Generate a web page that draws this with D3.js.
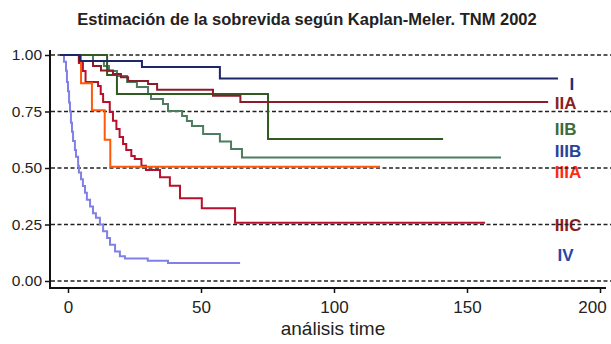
<!DOCTYPE html>
<html>
<head>
<meta charset="utf-8">
<script src="https://cdn.jsdelivr.net/npm/d3@7"></script>
<style>
  html, body { margin: 0; padding: 0; background: #fff; }
  svg { display: block; }
  text { font-family: "Liberation Sans", Arial, Helvetica, sans-serif; }
</style>
</head>
<body>
<svg id="chart" width="611" height="344"></svg>
<script>
// ---- data (times in months, survival proportion) ----
const titleText = "Estimación de la sobrevida según Kaplan-Meler. TNM 2002";
const xLabel = "análisis time";
const xTicks = [0, 50, 100, 150, 200];
const yTicks = [0, 0.25, 0.5, 0.75, 1];

const stageNames = ["I", "IIA", "IIB", "IIIB", "IIIA", "IIIC", "IV"];

const timesI = [-3, 4.5, 27.8, 57.1, 184.2];
const survI  = [1, 0.973, 0.947, 0.896, 0.896];

const timesIIA = [-3, 4.1, 9.4, 12.4, 16.9, 19.9, 22.6, 30.1, 33.5, 54.5, 64.8, 180.5];
const survIIA  = [1, 0.973, 0.951, 0.931, 0.916, 0.901, 0.885, 0.872, 0.846, 0.820, 0.792, 0.792];

const timesIIB = [-3, 14.7, 18.4, 75.2, 141];
const survIIB  = [1, 0.912, 0.827, 0.628, 0.628];

const timesIIIB = [-3, 9.4, 13.5, 15.4, 18.4, 22.2, 25.9, 30.1, 31.2, 35.7, 37.6, 42.9, 44.7, 46.6, 50.8, 57.1, 61.3, 65.4, 162.8];
const survIIIB  = [1, 0.973, 0.951, 0.929, 0.907, 0.881, 0.858, 0.827, 0.805, 0.783, 0.752, 0.730, 0.708, 0.686, 0.650, 0.617, 0.584, 0.547, 0.547];

const timesIIIA = [-3, 4.9, 9.0, 13.8, 15.9, 117.3];
const survIIIA  = [1, 0.875, 0.755, 0.625, 0.505, 0.505];

const timesIIIC = [-3, 4.1, 5.6, 6.6, 11.3, 12.3, 13.2, 15.7, 16.9, 18.2, 19.4, 20.7, 21.9, 23.8, 25.1, 27.6, 29.3, 34.6, 38.3, 42.1, 50.3, 62.8, 156.8];
const survIIIC  = [1, 0.965, 0.929, 0.881, 0.863, 0.827, 0.792, 0.748, 0.709, 0.673, 0.637, 0.606, 0.580, 0.553, 0.540, 0.510, 0.491, 0.459, 0.422, 0.366, 0.322, 0.258, 0.258];

const timesIV = [-3, -1.5, -0.75, -0.4, 0, 0.4, 0.75, 1.1, 1.5, 1.9, 2.6, 3, 3.8, 4.1, 4.9, 5.6, 6.4, 7.1, 8.3, 9.4, 10.5, 12, 13.2, 14.7, 15.8, 17.7, 19.5, 21.4, 30, 37.6, 64.7];
const survIV  = [1, 0.97, 0.93, 0.88, 0.84, 0.79, 0.75, 0.70, 0.66, 0.62, 0.58, 0.55, 0.51, 0.48, 0.45, 0.42, 0.39, 0.36, 0.33, 0.30, 0.28, 0.25, 0.22, 0.19, 0.16, 0.13, 0.11, 0.10, 0.09, 0.08, 0.08];

// label anchor values (survival level each stage label sits at)
const labelTimes = [188.5, 183, 183, 183, 183, 183, 184];
const labelLevels = [0.873, 0.790, 0.675, 0.575, 0.482, 0.248, 0.115];

// ---- styles ----
const lineColors  = ["#1c2668", "#8e1b2a", "#2f5a20", "#4d7d60", "#ff5a0a", "#b8102c", "#8080e6"];
const labelColors = ["#1f2e7a", "#8b1f1f", "#3c6b3c", "#27449a", "#ff2a14", "#8e1b1b", "#2446a6"];

const seriesTimes = [timesI, timesIIA, timesIIB, timesIIIB, timesIIIA, timesIIIC, timesIV];
const seriesSurv  = [survI, survIIA, survIIB, survIIIB, survIIIA, survIIIC, survIV];

const svg = d3.select("#chart");
const x = d3.scaleLinear().domain([0, 200]).range([68, 600]);
const y = d3.scaleLinear().domain([0, 1]).range([281, 55]);
const axisLeftX = 50, axisBottomY = 288;

// title
svg.append("text")
  .attr("x", 307).attr("y", 25)
  .attr("text-anchor", "middle")
  .attr("font-size", 16.5).attr("font-weight", "bold")
  .attr("fill", "#222")
  .text(titleText);

// stage labels (drawn under grid lines)
svg.append("g").selectAll("text")
  .data(stageNames)
  .join("text")
  .attr("x", (d, i) => x(labelTimes[i]))
  .attr("y", (d, i) => y(labelLevels[i]))
  .attr("dy", "0.36em")
  .attr("text-anchor", "start")
  .attr("font-size", 17).attr("font-weight", "bold")
  .attr("fill", (d, i) => labelColors[i])
  .text(d => d);

// dashed grid
svg.append("g").selectAll("line")
  .data(yTicks)
  .join("line")
  .attr("x1", axisLeftX + 1).attr("x2", 611)
  .attr("y1", d => y(d)).attr("y2", d => y(d))
  .attr("stroke", "#222").attr("stroke-width", 1.3)
  .attr("stroke-dasharray", "4,2.5");

// curves
const line = d3.line()
  .x(d => x(d[0])).y(d => y(d[1]))
  .curve(d3.curveStepAfter);

svg.append("g").selectAll("path")
  .data(d3.range(seriesTimes.length).reverse())
  .join("path")
  .attr("d", i => line(seriesTimes[i].map((t, k) => [t, seriesSurv[i][k]])))
  .attr("fill", "none")
  .attr("stroke", i => lineColors[i])
  .attr("stroke-width", 2);

// y axis
const yAxis = d3.axisLeft(y).tickValues(yTicks).tickFormat(d3.format(".2f")).tickSize(5).tickPadding(3);
const gy = svg.append("g").attr("transform", `translate(${axisLeftX},0)`).call(yAxis);
gy.select(".domain").remove();
gy.selectAll("line").attr("stroke", "#111").attr("stroke-width", 1.5);
gy.selectAll("text").attr("font-size", 15.5).attr("fill", "#222")
  .attr("font-family", "'Liberation Sans', Arial, sans-serif");

// x axis
const xAxis = d3.axisBottom(x).tickValues(xTicks).tickSize(5).tickPadding(8);
const gx = svg.append("g").attr("transform", `translate(0,${axisBottomY})`).call(xAxis);
gx.select(".domain").remove();
gx.selectAll("line").attr("stroke", "#111").attr("stroke-width", 1.5);
gx.selectAll("text").attr("font-size", 17).attr("fill", "#222")
  .attr("font-family", "'Liberation Sans', Arial, sans-serif");
gx.selectAll(".tick").filter(d => d === 200).select("text").attr("dx", -8);

// axis lines
svg.append("line")
  .attr("x1", axisLeftX).attr("x2", axisLeftX)
  .attr("y1", 50).attr("y2", axisBottomY + 0.75)
  .attr("stroke", "#111").attr("stroke-width", 2);
svg.append("line")
  .attr("x1", axisLeftX - 1).attr("x2", 606)
  .attr("y1", axisBottomY).attr("y2", axisBottomY)
  .attr("stroke", "#111").attr("stroke-width", 2);

// x axis title
svg.append("text")
  .attr("x", 333).attr("y", 335)
  .attr("text-anchor", "middle")
  .attr("font-size", 19)
  .attr("fill", "#222")
  .text(xLabel);
</script>
</body>
</html>
